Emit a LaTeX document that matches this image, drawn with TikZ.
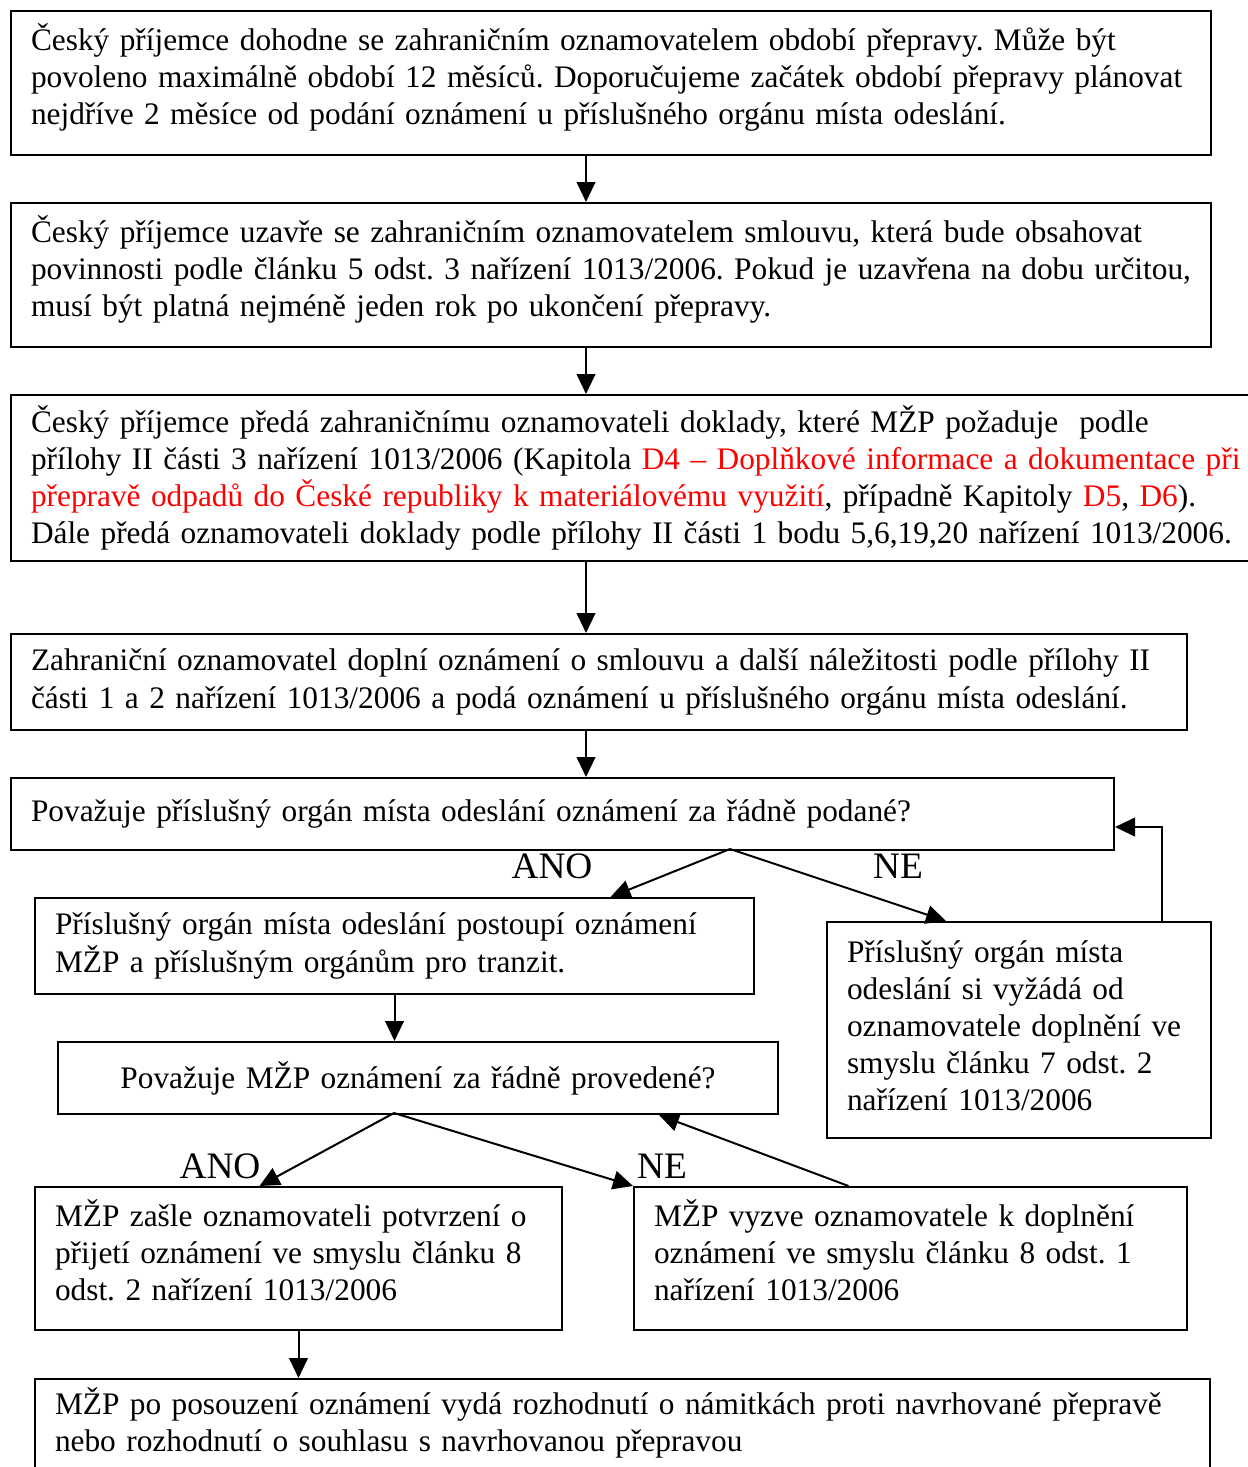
\documentclass[tikz,border=0pt]{standalone}
\usepackage{fontspec}
\setmainfont{Liberation Serif}
\usetikzlibrary{arrows.meta}
\frenchspacing

\tikzset{
  box/.style={draw, line width=0.75pt, anchor=north west, inner xsep=7.5pt, inner ysep=0pt,
    align=left, font=\fontsize{11.75pt}{13.9pt}\selectfont},
  lift/.style={execute at end node={\par\vspace*{#1}}},
  answer/.style={font=\fontsize{14pt}{16pt}\selectfont, inner sep=0pt},
  arr/.style={line width=0.75pt, -{Triangle[length=7.5pt,width=7pt]}},
}

\begin{document}
\begin{tikzpicture}[x=0.375pt, y=-0.375pt]  % souradnice v pixelech

    \useasboundingbox (0,0) rectangle (1247,1467);

    % hlavni tok nahore
    \node[box, lift=4pt, minimum width=450pt, minimum height=54pt, text width=435pt] (dohoda) at (10,10)
      {Český příjemce dohodne se zahraničním oznamovatelem období přepravy. Může být\\
       povoleno maximálně období 12 měsíců. Doporučujeme začátek období přepravy plánovat\\
       nejdříve 2 měsíce od podání oznámení u příslušného orgánu místa odeslání.};
    \node[box, lift=4.5pt, minimum width=450pt, minimum height=54pt, text width=435pt] (smlouva) at (10,202)
      {Český příjemce uzavře se zahraničním oznamovatelem smlouvu, která bude obsahovat\\
       povinnosti podle článku 5 odst. 3 nařízení 1013/2006. Pokud je uzavřena na dobu určitou,\\
       musí být platná nejméně jeden rok po ukončení přepravy.};
    \node[box, minimum width=468.75pt, minimum height=62.25pt, text width=453.75pt] (doklady) at (10,394)
      {Český příjemce předá zahraničnímu oznamovateli doklady, které MŽP požaduje \ podle\\
       přílohy II části 3 nařízení 1013/2006 (Kapitola \textcolor{red}{D4 – Doplňkové informace a dokumentace při}\\
       \textcolor{red}{přepravě odpadů do České republiky k materiálovému využití}, případně Kapitoly \textcolor{red}{D5}, \textcolor{red}{D6}).\\
       Dále předá oznamovateli doklady podle přílohy II části 1 bodu 5,6,19,20 nařízení 1013/2006.};
    \node[box, minimum width=441pt, minimum height=36pt, text width=426pt] (podani) at (10,633)
      {Zahraniční oznamovatel doplní oznámení o smlouvu a další náležitosti podle přílohy II\\
       části 1 a 2 nařízení 1013/2006 a podá oznámení u příslušného orgánu místa odeslání.};
    \node[box, minimum width=413.625pt, minimum height=27pt, text width=398.625pt] (otazka1) at (10,777)
      {Považuje příslušný orgán místa odeslání oznámení za řádně podané?};

    % vetveni po prvni otazce
    \node[box, minimum width=269.625pt, minimum height=36pt, text width=254.625pt] (postoupi) at (34,897)
      {Příslušný orgán místa odeslání postoupí oznámení\\
       MŽP a příslušným orgánům pro tranzit.};
    \node[box, lift=3pt, minimum width=144pt, minimum height=81pt, text width=129pt] (vyzada) at (826,921)
      {Příslušný orgán místa\\
       odeslání si vyžádá od\\
       oznamovatele doplnění ve\\
       smyslu článku 7 odst. 2\\
       nařízení 1013/2006};
    \node[box, align=center, minimum width=270pt, minimum height=27pt, text width=255pt] (otazka2) at (57,1041)
      {Považuje MŽP oznámení za řádně provedené?};

    % vetveni po druhe otazce
    \node[box, lift=6pt, minimum width=197.625pt, minimum height=53.625pt, text width=182.625pt] (potvrzeni) at (34,1186)
      {MŽP zašle oznamovateli potvrzení o\\
       přijetí oznámení ve smyslu článku 8\\
       odst. 2 nařízení 1013/2006};
    \node[box, lift=6pt, minimum width=207.375pt, minimum height=53.625pt, text width=192.375pt] (vyzva) at (633,1186)
      {MŽP vyzve oznamovatele k doplnění\\
       oznámení ve smyslu článku 8 odst. 1\\
       nařízení 1013/2006};
    \node[box, minimum width=440.625pt, minimum height=48.75pt, text width=425.625pt] (rozhodnuti) at (34,1378)
      {MŽP po posouzení oznámení vydá rozhodnutí o námitkách proti navrhované přepravě\\
       nebo rozhodnutí o souhlasu s navrhovanou přepravou\\ \strut};

    % popisky ANO / NE
    \node[answer] (ano1) at (552,866) {ANO};
    \node[answer] (ne1) at (898,866) {NE};
    \node[answer] (ano2) at (220,1166) {ANO};
    \node[answer] (ne2) at (662,1166) {NE};

    % sipky
    \coordinate (spine) at (586,0);
    \draw[arr] (dohoda.south -| spine) -- (smlouva.north -| spine);
    \draw[arr] (smlouva.south -| spine) -- (doklady.north -| spine);
    \draw[arr] (doklady.south -| spine) -- (podani.north -| spine);
    \draw[arr] (podani.south -| spine) -- (otazka1.north -| spine);

    \coordinate (fork1) at (730,849);
    \draw[arr] (fork1) -- ([xshift=216*0.375pt]postoupi.north);
    \draw[arr] (fork1) -- ([xshift=-73*0.375pt]vyzada.north);
    \draw[arr] ([xshift=143*0.375pt]vyzada.north) |- ([yshift=-13*0.375pt]otazka1.east);

    \draw[arr] (postoupi.south) -- (otazka2.north -| postoupi.south);

    \coordinate (fork2) at (394,1113);
    \draw[arr] (fork2) -- ([xshift=-39*0.375pt]potvrzeni.north);
    \draw[arr] (fork2) -- (vyzva.north west);
    \draw[arr] ([xshift=-62*0.375pt]vyzva.north) -- ([xshift=241*0.375pt]otazka2.south);

    \draw[arr] (potvrzeni.south) -- (rozhodnuti.north -| potvrzeni.south);

\end{tikzpicture}
\end{document}
